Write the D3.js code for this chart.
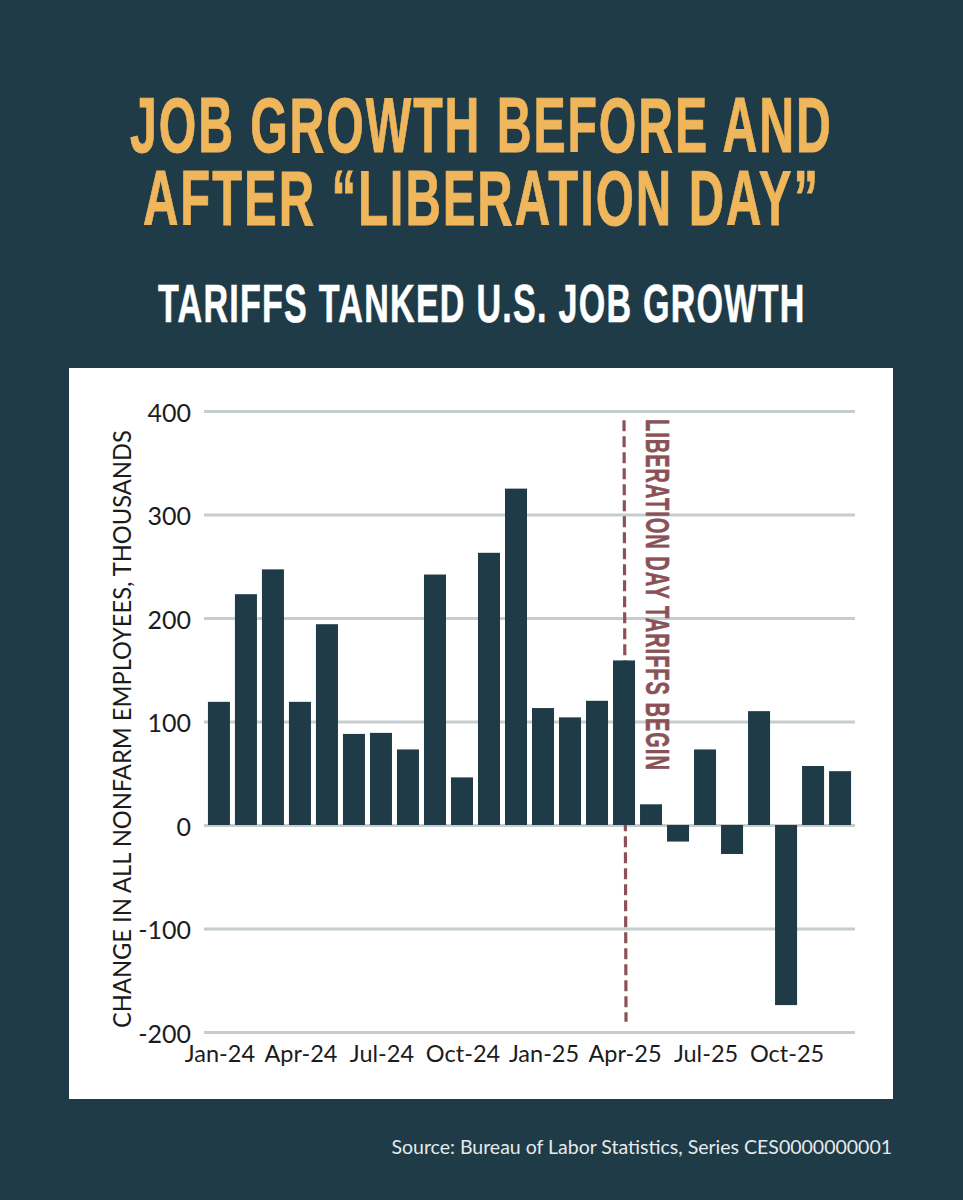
<!DOCTYPE html>
<html><head><meta charset="utf-8">
<script src="https://cdnjs.cloudflare.com/ajax/libs/d3/7.8.5/d3.min.js"></script>
<style>
html,body{margin:0;padding:0;background:#1f3b47}
svg{display:block}
</style></head><body>
<svg id="c" width="963" height="1200"></svg>
<script>
const months = ["Jan-24","Feb-24","Mar-24","Apr-24","May-24","Jun-24","Jul-24","Aug-24","Sep-24","Oct-24","Nov-24","Dec-24","Jan-25","Feb-25","Mar-25","Apr-25","May-25","Jun-25","Jul-25","Aug-25","Sep-25","Oct-25","Nov-25","Dec-25"];
const changes = [119,223,247,119,194,88,89,73,242,46,263,325,113,104,120,159,20,-16,73,-28,110,-174,57,52];
const xTicks = ["Jan-24","Apr-24","Jul-24","Oct-24","Jan-25","Apr-25","Jul-25","Oct-25"];
const yTicks = [-200,-100,0,100,200,300,400];
const eventMonth = "Apr-25";
const titleLines = ["JOB GROWTH BEFORE AND","AFTER \u201CLIBERATION DAY\u201D"];
const subtitle = "TARIFFS TANKED U.S. JOB GROWTH";
const yLabel = "CHANGE IN ALL NONFARM EMPLOYEES, THOUSANDS";
const eventLabel = "LIBERATION DAY TARIFFS BEGIN";
const source = "Source: Bureau of Labor Statistics, Series CES0000000001";

const svg = d3.select("#c");
const NARROW = "'Liberation Sans Narrow','Liberation Sans',sans-serif";
svg.append("rect").attr("width",963).attr("height",1200).attr("fill","#1f3b47");

// place a text so it spans a given length along its own direction
function fit(sel, tx, ty, rot, len){
  const natural = sel.node().getComputedTextLength();
  sel.attr("transform",`translate(${tx},${ty}) rotate(${rot}) scale(${len/natural},1)`);
  return sel;
}

titleLines.forEach((line,i)=>{
  const t = svg.append("text").attr("font-family",NARROW).attr("font-weight",700).attr("font-size",77)
    .attr("letter-spacing",3).attr("fill","#f0b65c").attr("stroke","#f0b65c").attr("stroke-width",0.9).text(line);
  fit(t, i?143:130, i?225:152, 0, i?677:703);
});
fit(svg.append("text").attr("font-family",NARROW).attr("font-weight",700).attr("font-size",54)
  .attr("letter-spacing",2).attr("fill","#fff").attr("stroke","#fff").attr("stroke-width",0.6).text(subtitle), 158, 322, 0, 648);

svg.append("rect").attr("x",69).attr("y",368).attr("width",824).attr("height",731).attr("fill","#fff");

const x = d3.scaleBand().domain(months).range([205.5,853.5]).paddingInner(0.185).paddingOuter(0.09);
const y = d3.scaleLinear().domain([-200,400]).range([1032,411]);

const yAxis = svg.append("g").attr("transform","translate(204,0)")
  .call(d3.axisLeft(y).tickValues(yTicks).tickSize(-651).tickPadding(13).tickFormat(d=>d));
yAxis.select(".domain").remove();
yAxis.selectAll("line").attr("stroke","#c6cdcd").attr("stroke-width",3.2);
yAxis.selectAll("text").attr("font-family","Lato").attr("font-size",25).attr("fill","#1c1c1c").attr("dy","0.40em");

const ex = x(eventMonth)+x.bandwidth()/2;
svg.append("line").attr("x1",ex).attr("x2",ex+2).attr("y1",y(391)).attr("y2",y(-190))
  .attr("stroke","#8a5257").attr("stroke-width",3.2).attr("stroke-dasharray","11 5");

svg.append("g").selectAll("rect").data(months).join("rect")
  .attr("x",d=>x(d)).attr("width",x.bandwidth())
  .attr("y",(d,i)=>y(Math.max(0,changes[i])))
  .attr("height",(d,i)=>Math.abs(y(changes[i])-y(0)))
  .attr("fill","#1f3b47");

const xAxis = svg.append("g").attr("transform","translate(1,1045)")
  .call(d3.axisBottom(x).tickValues(xTicks).tickSize(0).tickPadding(0));
xAxis.select(".domain").remove();
xAxis.selectAll("text").attr("font-family","Lato").attr("font-size",23.5).attr("fill","#1c1c1c").attr("dy","0.71em");

fit(svg.append("text").attr("font-family",NARROW).attr("font-weight",700).attr("font-size",33)
  .attr("letter-spacing",1.6).attr("fill","#8a5257").attr("stroke","#8a5257").attr("stroke-width",0.5).text(eventLabel), 645.5, 419, 90, 352);

fit(svg.append("text").attr("font-family","Lato").attr("font-size",25).attr("fill","#1c1c1c").text(yLabel), 131, 1028, -90, 598);

svg.append("text").attr("x",892).attr("y",1154).attr("text-anchor","end")
  .attr("font-family","Lato").attr("font-size",19.5).attr("fill","#e6eaea").text(source);
</script>
</body></html>
